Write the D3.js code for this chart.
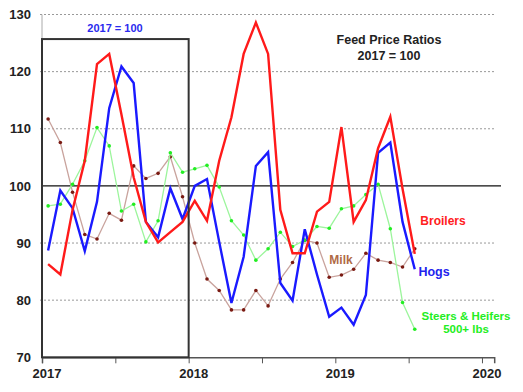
<!DOCTYPE html>
<html><head><meta charset="utf-8">
<script src="https://cdn.jsdelivr.net/npm/d3@7/dist/d3.min.js"></script>
<style>body{margin:0;background:#fff}svg{display:block;font-family:"Liberation Sans",Arial,sans-serif}</style>
</head><body><svg id="c" width="523" height="392"></svg>
<script>
const months = ["2017-01","2017-02","2017-03","2017-04","2017-05","2017-06","2017-07","2017-08","2017-09","2017-10","2017-11","2017-12",
"2018-01","2018-02","2018-03","2018-04","2018-05","2018-06","2018-07","2018-08","2018-09","2018-10","2018-11","2018-12",
"2019-01","2019-02","2019-03","2019-04","2019-05","2019-06","2019-07"];
const broilers = [86.3,84.5,95.8,104.4,121.3,123.1,112.5,101.5,93.7,90.1,91.9,93.7,
97.4,93.9,104.4,112.0,123.1,128.6,123.1,95.8,88.2,88.2,95.5,97.2,
110.3,93.7,97.5,106.6,112.1,99.5,88.1];
const hogs = [88.7,99.2,96.1,88.6,97.2,113.6,120.9,118.0,93.7,91.0,99.6,94.2,
100.0,101.2,90.2,79.5,87.6,103.5,105.9,83.0,79.9,92.4,84.5,77.1,
78.7,75.7,80.9,105.8,107.6,93.7,85.4];
const milk = [111.7,107.6,98.9,91.5,90.7,95.2,94.0,103.5,101.3,102.2,105.1,98.1,
90.0,83.7,81.7,78.3,78.3,81.7,79.0,83.7,86.6,90.5,90.0,84.0,
84.4,85.4,88.2,87.0,86.6,85.8,89.0];
const steers = [96.5,96.8,100.3,104.4,110.2,107.0,95.6,96.8,90.2,93.9,105.8,102.4,
103.0,103.6,99.8,93.9,91.4,87.0,89.0,91.9,89.4,90.5,92.9,92.6,
96.0,96.5,98.5,100.3,92.5,79.6,74.9];
const yTicks = [70,80,90,100,110,120,130];
const xTicks = [2017,2018,2019,2020];
const xMinorTicks = [2017.5,2018.5,2019.5];

const svg = d3.select("#c");
const x = d3.scaleLinear().domain([2017, 2020 + 1/12]).range([42, 494.2]);
const y = d3.scaleLinear().domain([70, 130]).range([357.3, 14.5]);
const xm = m => { const [yy, mm] = m.split("-").map(Number); return yy + (mm - 0.5) / 12; };

// grid
svg.append("g").selectAll("line").data(yTicks.filter(v => v !== 70 && v !== 100)).join("line")
  .attr("x1", 40).attr("x2", x.range()[1]).attr("y1", d => y(d)).attr("y2", d => y(d))
  .attr("stroke", "#999").attr("stroke-dasharray", "2,2").attr("stroke-width", 1);

// left axis line
svg.append("line").attr("x1", 42).attr("x2", 42).attr("y1", y(130)).attr("y2", y(70)).attr("stroke", "#aaa");

// y labels
svg.append("g").selectAll("text").data(yTicks).join("text")
  .attr("x", 31).attr("y", d => y(d)).attr("dy", "0.36em").attr("text-anchor", "end")
  .attr("font-size", 13).attr("font-weight", "bold").attr("fill", "#222").text(d => d);

// x axis
const xAxis = d3.axisBottom(x).tickValues(xTicks.concat(xMinorTicks)).tickSize(6).tickFormat("");
const gx = svg.append("g").attr("transform", `translate(0,${y(70)})`).call(xAxis);
gx.select(".domain").attr("stroke", "#555").attr("stroke-width", 1.5);
gx.selectAll(".tick line").attr("stroke", "#555");
svg.append("g").selectAll("text").data(xTicks).join("text")
  .attr("x", d => x(d) + 5).attr("y", 378).attr("text-anchor", "middle")
  .attr("font-size", 13).attr("font-weight", "bold").attr("fill", "#222").text(d => d);

// 100 reference line
svg.append("line").attr("x1", 42).attr("x2", 501).attr("y1", y(100)).attr("y2", y(100))
  .attr("stroke", "#111").attr("stroke-width", 1.3);

const line = d3.line().x((d, i) => x(xm(months[i]))).y(d => y(d));

// milk
svg.append("path").datum(milk).attr("d", line).attr("fill", "none").attr("stroke", "#c9a39d").attr("stroke-width", 1.3);
svg.append("g").selectAll("circle").data(milk).join("circle")
  .attr("cx", (d, i) => x(xm(months[i]))).attr("cy", d => y(d)).attr("r", 1.8).attr("fill", "#7a1a12");
// steers
svg.append("path").datum(steers).attr("d", line).attr("fill", "none").attr("stroke", "#9cf59c").attr("stroke-width", 1.3);
svg.append("g").selectAll("circle").data(steers).join("circle")
  .attr("cx", (d, i) => x(xm(months[i]))).attr("cy", d => y(d)).attr("r", 1.8).attr("fill", "#22ee22");
// hogs
svg.append("path").datum(hogs).attr("d", line).attr("fill", "none").attr("stroke", "#1a1aff").attr("stroke-width", 2.4);
// broilers
svg.append("path").datum(broilers).attr("d", line).attr("fill", "none").attr("stroke", "#ff1a1a").attr("stroke-width", 2.4);

// box
svg.append("rect").attr("x", x(2017)).attr("y", y(125.7)).attr("width", x(2018) - x(2017)).attr("height", y(70) - y(125.7))
  .attr("fill", "none").attr("stroke", "#333").attr("stroke-width", 2);

// annotations
const txt = (t, px, py, col, size) => svg.append("text").attr("x", px).attr("y", py).attr("text-anchor", "middle")
  .attr("font-size", size).attr("font-weight", "bold").attr("fill", col).text(t);
txt("2017 = 100", 115, 32, "#2a2aee", 11);
txt("Feed Price Ratios", 389, 44, "#222", 12.5);
txt("2017 = 100", 389, 60, "#222", 12.5);
txt("Broilers", 443, 225, "#ff2020", 12);
txt("Milk", 341, 264, "#b06a45", 12);
txt("Hogs", 434, 276, "#2222ee", 12.5);
txt("Steers & Heifers", 466, 320, "#22ee22", 11.5);
txt("500+ lbs", 466, 333, "#22ee22", 11.5);
</script></body></html>
